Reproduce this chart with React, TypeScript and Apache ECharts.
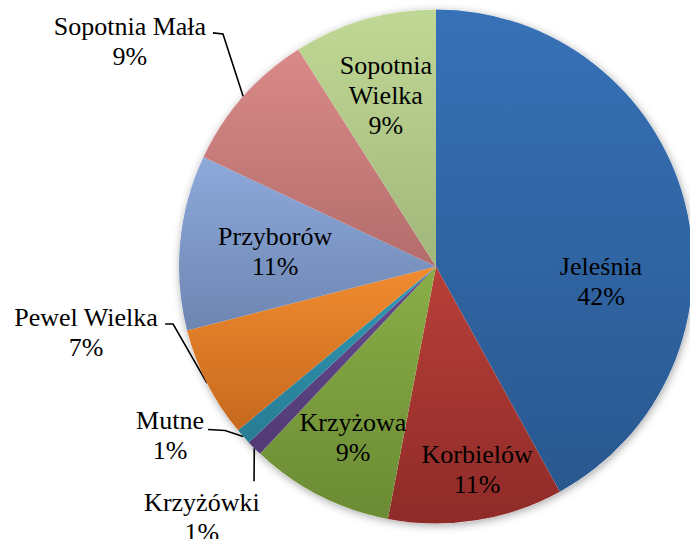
import React, { useEffect, useRef } from 'react';
import * as echarts from 'echarts';

// ---- data ----
const categories = [
  'Jeleśnia',
  'Korbielów',
  'Krzyżowa',
  'Krzyżówki',
  'Mutne',
  'Pewel Wielka',
  'Przyborów',
  'Sopotnia Mała',
  'Sopotnia Wielka',
];
const shares = [42, 11, 9, 1, 1, 7, 11, 9, 9];

// ---- styles ----
const topColors = ['#3771b7', '#b93f39', '#89ae47', '#654b8f', '#3199b5', '#f08b2f', '#8eaadb', '#da8a88', '#c0d895'];
const bottomColors = ['#29588f', '#8e2b28', '#6b8b34', '#523a76', '#287c94', '#c6691e', '#6d85b1', '#b36d6c', '#a1b77b'];
const outsideNames = ['Krzyżówki', 'Mutne', 'Pewel Wielka', 'Sopotnia Mała'];
const wrappedNames = ['Sopotnia Wielka'];
const FONT = 'serif';

// geometry (pixels)
const CX = 436;
const CY = 266.5;
const R = 257;

// label centres, as offsets from the pie centre in units of the radius
const labelOffsets: [number, number][] = [
  [0.642, 0.06],
  [0.16, 0.788],
  [-0.323, 0.667],
  [-0.911, 0.975],
  [-1.035, 0.656],
  [-1.362, 0.255],
  [-0.626, -0.06],
  [-1.191, -0.874],
  [-0.195, -0.667],
];
// leader line bend and end points (units of radius), for outside labels
const leaderPoints: Record<number, [number, number][]> = {
  3: [[-0.708, 0.835], [-0.708, 0.836]],
  4: [[-0.821, 0.638], [-0.887, 0.634]],
  5: [[-1.023, 0.224], [-1.054, 0.224]],
  7: [[-0.829, -0.905], [-0.868, -0.909]],
};

const total = shares.reduce((a, b) => a + b, 0);
const midAngles: number[] = [];
{
  let acc = 0;
  shares.forEach((v) => {
    midAngles.push(((acc + v / 2) / total) * Math.PI * 2);
    acc += v;
  });
}

export default function App() {
  const ref = useRef<HTMLDivElement>(null);
  useEffect(() => {
    if (!ref.current) return;
    const chart = echarts.init(ref.current, undefined, { renderer: 'svg' });
    const data = categories.map((name, i) => {
      const outside = outsideNames.includes(name);
      return {
        name,
        value: shares[i],
        itemStyle: {
          color: new echarts.graphic.LinearGradient(0, 0, 0, 1, [
            { offset: 0, color: topColors[i] },
            { offset: 1, color: bottomColors[i] },
          ]),
        },
        label: { position: outside ? 'outside' : 'inside' },
        labelLine: { show: outside },
      };
    });
    chart.setOption({
      animation: false,
      backgroundColor: '#ffffff',
      textStyle: { fontFamily: FONT },
      series: [
        {
          type: 'pie',
          silent: true,
          center: [CX, CY],
          radius: R,
          data: [{ value: 1, itemStyle: { color: '#ffffff' } }],
          label: { show: false },
          labelLine: { show: false },
          itemStyle: { shadowBlur: 8, shadowColor: 'rgba(0,0,0,0.35)', shadowOffsetX: 1, shadowOffsetY: 2 },
          z: 1,
        },
        {
          type: 'pie',
          center: [CX, CY],
          radius: R,
          startAngle: 90,
          clockwise: true,
          avoidLabelOverlap: false,
          z: 2,
          itemStyle: { borderWidth: 0 },
          data,
          label: {
            show: true,
            color: '#000000',
            fontFamily: FONT,
            fontSize: 26,
            lineHeight: 30,
            align: 'center',
            formatter: (p: any) => {
              const nm = wrappedNames.includes(p.name) ? p.name.replace(' ', '\n') : p.name;
              return nm + '\n' + Math.round(p.percent) + '%';
            },
          },
          labelLine: {
            lineStyle: { color: '#000000', width: 1.6 },
            smooth: false,
          },
          labelLayout: (p: any) => {
            const i = p.dataIndex;
            const off = labelOffsets[i];
            const res: any = {
              x: CX + off[0] * R,
              y: CY + off[1] * R,
              align: 'center',
              verticalAlign: 'middle',
            };
            const lp = leaderPoints[i];
            if (lp) {
              const a = midAngles[i];
              const start = [CX + Math.sin(a) * R, CY - Math.cos(a) * R];
              res.labelLinePoints = [start, ...lp.map((q) => [CX + q[0] * R, CY + q[1] * R])];
            }
            return res;
          },
        },
      ],
    });
    return () => chart.dispose();
  }, []);
  return <div ref={ref} style={{ position: 'fixed', left: 0, top: 0, width: 690, height: 539 }} />;
}
